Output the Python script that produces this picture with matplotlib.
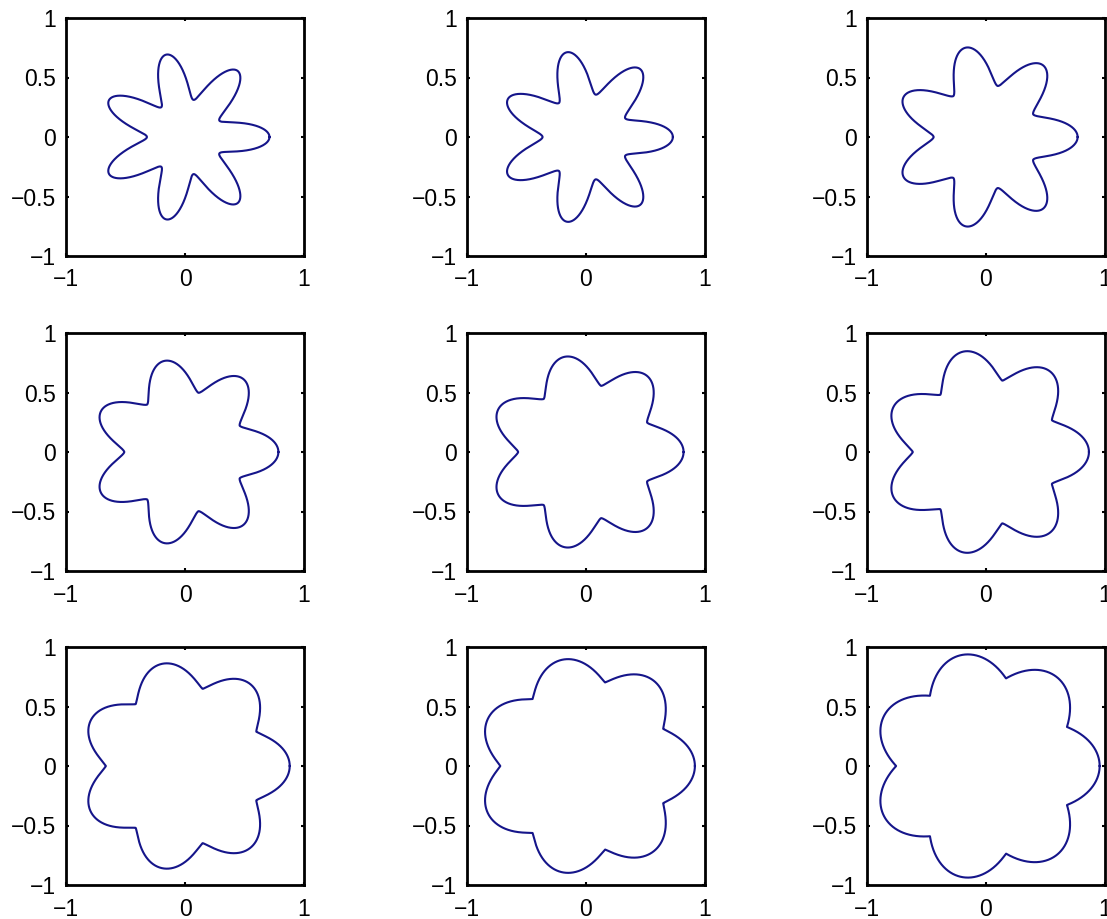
import numpy as np
import matplotlib
matplotlib.use("Agg")
import matplotlib.pyplot as plt

plt.rcParams['font.family'] = ['Liberation Sans', 'DejaVu Sans']

# Per-panel shape readings (7-petal closed curves), row by row
petal_count = 7
r_max = [0.71, 0.73, 0.77, 0.785, 0.82, 0.865, 0.88, 0.915, 0.955]
r_min = [0.32, 0.365, 0.44, 0.51, 0.57, 0.615, 0.665, 0.72, 0.755]
sharpness = [1.0, 0.95, 0.85, 0.75, 0.7, 0.65, 0.6, 0.55, 0.5]

x_ticks = [-1, 0, 1]
x_ticklabels = ['\u22121', '0', '1']
y_ticks = [-1, -0.5, 0, 0.5, 1]
y_ticklabels = ['\u22121', '\u22120.5', '0', '0.5', '1']

W, H = 1107, 919
fig = plt.figure(figsize=(W / 100, H / 100), dpi=100)

col_left = [66, 467, 867]
row_top = [18, 333, 647]
size = 238

theta = np.linspace(0, 2 * np.pi, 2000)
for i in range(9):
    r, c = divmod(i, 3)
    ax = fig.add_axes([col_left[c] / W, 1 - (row_top[r] + size) / H, size / W, size / H])
    g = ((1 + np.cos(petal_count * theta)) / 2) ** sharpness[i]
    rad = r_min[i] + (r_max[i] - r_min[i]) * g
    ax.plot(rad * np.cos(theta), rad * np.sin(theta), color='#15158a', lw=1.5)
    ax.set_xlim(-1, 1)
    ax.set_ylim(-1, 1)
    ax.set_xticks(x_ticks)
    ax.set_xticklabels(x_ticklabels)
    ax.set_yticks(y_ticks)
    ax.set_yticklabels(y_ticklabels)
    ax.tick_params(direction='in', length=2.5, width=1.5, top=True, right=True,
                   labelsize=16.5, pad=7)
    ax.tick_params(axis='x', pad=9)
    for s in ax.spines.values():
        s.set_linewidth(2.0)

fig.savefig('out.png', dpi=100)
